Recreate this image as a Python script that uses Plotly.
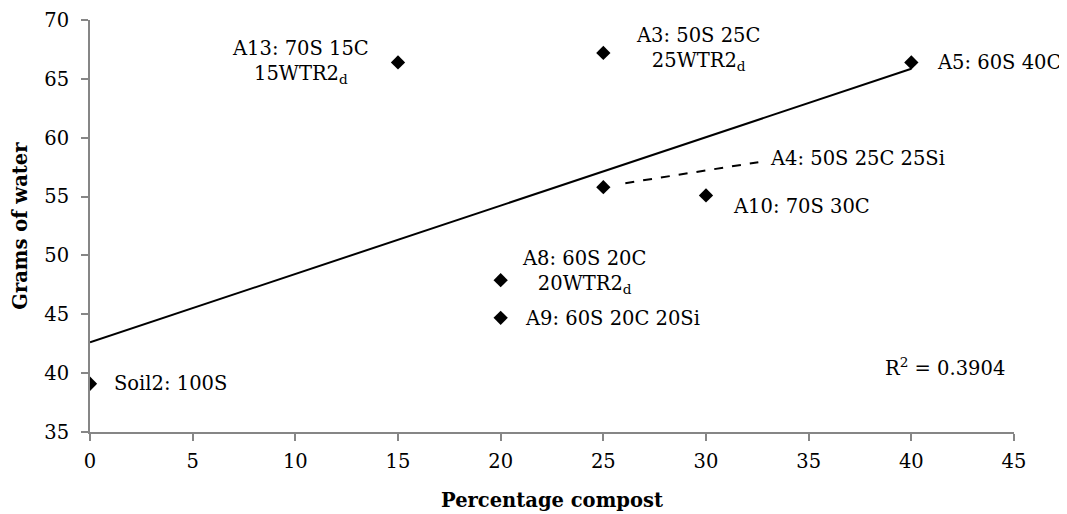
import numpy as np
import plotly.graph_objects as go

# Data
compost_pct = [0, 15, 25, 25, 40, 30, 20, 20]
water_g = [39.1, 66.4, 67.2, 55.8, 66.4, 55.1, 47.9, 44.7]
labels = ["Soil2: 100S", "A13: 70S 15C<br>15WTR2<sub>d</sub>", "A3: 50S 25C<br>25WTR2<sub>d</sub>",
          "A4: 50S 25C 25Si", "A5: 60S 40C", "A10: 70S 30C",
          "A8: 60S 20C<br>20WTR2<sub>d</sub>", "A9: 60S 20C 20Si"]
r2_text = "R<sup>2</sup> = 0.3904"
x_ticks = [0, 5, 10, 15, 20, 25, 30, 35, 40, 45]
y_ticks = [35, 40, 45, 50, 55, 60, 65, 70]

FONT = "DejaVu Serif"
FS = 19.5

slope, intercept = np.polyfit(compost_pct, water_g, 1)
trend_x = [min(compost_pct), max(compost_pct)]
trend_y = [intercept + slope * v for v in trend_x]

fig = go.Figure()
fig.add_trace(go.Scatter(x=trend_x, y=trend_y, mode="lines",
                         line=dict(color="black", width=2), showlegend=False, hoverinfo="skip"))
fig.add_trace(go.Scatter(x=compost_pct, y=water_g, mode="markers",
                         marker=dict(symbol="diamond", size=11, color="black"),
                         showlegend=False))

# label placement (pixel shifts relative to each point)
place = [
    dict(dx=22, dy=0, xanchor="left", align="left"),       # Soil2
    dict(dx=-98, dy=0, xanchor="center", align="center"),  # A13
    dict(dx=95, dy=4, xanchor="center", align="center"),   # A3
    dict(dx=165, dy=29, xanchor="left", align="left"),     # A4 (leader line)
    dict(dx=24, dy=0, xanchor="left", align="left"),       # A5
    dict(dx=25, dy=-11, xanchor="left", align="left"),     # A10
    dict(dx=83, dy=8, xanchor="center", align="center"),   # A8
    dict(dx=22, dy=-1, xanchor="left", align="left"),      # A9
]
annotations = []
for xv, yv, lab, p in zip(compost_pct, water_g, labels, place):
    annotations.append(dict(x=xv, y=yv, xref="x", yref="y", text=lab, showarrow=False,
                            xshift=p["dx"], yshift=p["dy"],
                            xanchor=p["xanchor"], yanchor="middle", align=p["align"],
                            font=dict(family=FONT, size=FS, color="black")))

annotations.append(dict(x=0.858, y=0.158, xref="paper", yref="paper", text=r2_text,
                        showarrow=False, xanchor="left", yanchor="middle",
                        font=dict(family=FONT, size=FS, color="black")))

annotations.append(dict(x=0.5, y=-0.166, xref="paper", yref="paper", text="<b>Percentage compost</b>",
                        showarrow=False, xanchor="center", yanchor="middle",
                        font=dict(family=FONT, size=FS, color="black")))
annotations.append(dict(x=-0.076, y=0.5, xref="paper", yref="paper", text="<b>Grams of water</b>",
                        showarrow=False, textangle=-90, xanchor="center", yanchor="middle",
                        font=dict(family=FONT, size=FS, color="black")))

a4x, a4y = compost_pct[3], water_g[3]

fig.update_layout(
    width=1059, height=506,
    margin=dict(l=82, r=53, t=12, b=82, autoexpand=False),
    paper_bgcolor="white", plot_bgcolor="white",
    font=dict(family=FONT, size=FS, color="black"),
    annotations=annotations,
    shapes=[dict(type="line", xref="x", yref="y", x0=22, y0=4, x1=155, y1=25,
                 xsizemode="pixel", ysizemode="pixel", xanchor=a4x, yanchor=a4y,
                 line=dict(color="black", width=2, dash="dash"))],
    xaxis=dict(range=[0, 45], tickvals=x_ticks, showgrid=False, zeroline=False,
               showline=True, linecolor="#868686", linewidth=2, ticks="outside",
               ticklen=7, tickcolor="#868686", tickwidth=2, ticklabelstandoff=4,
               automargin=False,
               tickfont=dict(family=FONT, size=FS, color="black")),
    yaxis=dict(range=[35, 70], tickvals=y_ticks, showgrid=False, zeroline=False,
               showline=True, linecolor="#868686", linewidth=2, ticks="outside",
               ticklen=7, tickcolor="#868686", tickwidth=2, ticklabelstandoff=8,
               automargin=False,
               tickfont=dict(family=FONT, size=FS, color="black")),
)

fig.write_html("out.html")
